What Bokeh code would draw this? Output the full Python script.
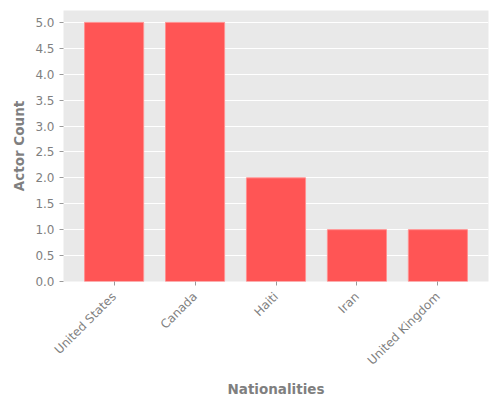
from bokeh.plotting import figure
from bokeh.models import FactorRange, Range1d, SingleIntervalTicker, NumeralTickFormatter
from bokeh.embed import file_html
from bokeh.resources import INLINE
import math

nationalities = ['United States', 'Canada', 'Haiti', 'Iran', 'United Kingdom']
actor_counts = [5, 5, 2, 1, 1]

gray_txt = '#7f7f7f'

p = figure(x_range=FactorRange(factors=nationalities, range_padding=0.05),
           y_range=Range1d(0, 5.23),
           frame_width=425, frame_height=271, output_backend="svg", toolbar_location=None,
           min_border_left=63, min_border_right=4, min_border_top=10, min_border_bottom=112)
p.background_fill_color = '#e9e9e9'
p.border_fill_color = 'white'
p.outline_line_color = None

p.vbar(x=nationalities, top=actor_counts, width=0.73, fill_color='#ff5555',
       line_color='#ff9090', line_width=1)

p.xgrid.grid_line_color = None
p.ygrid.grid_line_color = 'white'
p.ygrid.grid_line_width = 1
p.yaxis.ticker = SingleIntervalTicker(interval=0.5)
p.yaxis.formatter = NumeralTickFormatter(format="0.0")

for ax in (p.xaxis, p.yaxis):
    ax.axis_line_color = None
    ax.major_tick_line_color = '#9a9a9a'
    ax.major_tick_out = 4
    ax.major_tick_in = 0
    ax.minor_tick_line_color = None
    ax.major_label_text_color = gray_txt
    ax.major_label_text_font = 'DejaVu Sans'
    ax.major_label_text_font_size = '12px'
    ax.axis_label_text_color = gray_txt
    ax.axis_label_text_font = 'DejaVu Sans'
    ax.axis_label_text_font_style = 'bold'
    ax.axis_label_text_font_size = '13.5px'

p.xaxis.major_label_orientation = math.pi / 4
p.xaxis.major_label_standoff = 9
p.xaxis.axis_label_standoff = 5
p.xaxis.axis_label = 'Nationalities'
p.yaxis.axis_label = 'Actor Count'

open("out.html", "w").write(file_html(p, INLINE))
